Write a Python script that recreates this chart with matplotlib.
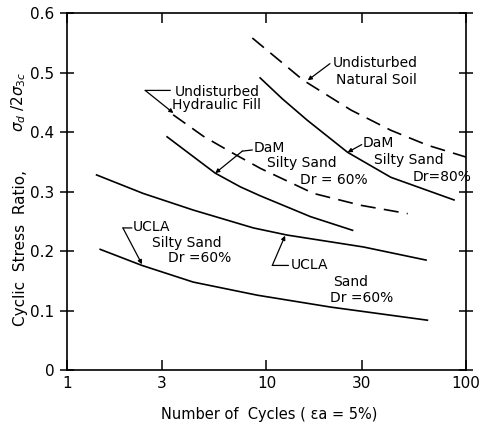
#!/usr/bin/env python3
import matplotlib
matplotlib.use("Agg")
import matplotlib.pyplot as plt
from matplotlib.ticker import FixedLocator, FixedFormatter, NullLocator

# curves: number of cycles vs cyclic stress ratio
natural_n = [8.5, 15.3, 26.5, 42, 64, 100]
natural_v = [0.558, 0.487, 0.437, 0.403, 0.378, 0.358]

dam80_n = [9.3, 12, 16, 25.5, 42, 87]
dam80_v = [0.491, 0.456, 0.42, 0.366, 0.324, 0.286]

hydraulic_n = [3.41, 4.83, 6.75, 9.33, 17.2, 29.7, 51]
hydraulic_v = [0.429, 0.393, 0.365, 0.339, 0.297, 0.277, 0.263]

dam60_n = [3.18, 5.54, 7.4, 9.3, 16.6, 27]
dam60_v = [0.392, 0.331, 0.308, 0.293, 0.258, 0.235]

ucla_sand_n = [1.41, 2.41, 4.3, 8.6, 12.7, 30.6, 63]
ucla_sand_v = [0.328, 0.297, 0.269, 0.239, 0.227, 0.207, 0.185]

ucla_silty_n = [1.47, 2.38, 4.3, 9.0, 21, 64]
ucla_silty_v = [0.203, 0.176, 0.148, 0.126, 0.106, 0.084]

x_ticks = [1, 3, 10, 30, 100]
x_labels = ["1", "3", "10", "30", "100"]
y_ticks = [0, 0.1, 0.2, 0.3, 0.4, 0.5, 0.6]
y_labels = ["0", "0.1", "0.2", "0.3", "0.4", "0.5", "0.6"]

fig = plt.figure(figsize=(4.84, 4.34), dpi=100)
ax = fig.add_axes([0.138, 0.147, 0.825, 0.823])

dash = (0, (9, 5))
ax.plot(natural_n, natural_v, color="k", lw=1.2, ls=dash)
ax.plot(hydraulic_n, hydraulic_v, color="k", lw=1.2, ls=dash)
ax.plot(dam80_n, dam80_v, color="k", lw=1.2)
ax.plot(dam60_n, dam60_v, color="k", lw=1.2)
ax.plot(ucla_sand_n, ucla_sand_v, color="k", lw=1.2)
ax.plot(ucla_silty_n, ucla_silty_v, color="k", lw=1.2)

ax.set_xscale("log")
ax.set_xlim(1, 100)
ax.set_ylim(0, 0.6)
ax.xaxis.set_major_locator(FixedLocator(x_ticks))
ax.xaxis.set_major_formatter(FixedFormatter(x_labels))
ax.xaxis.set_minor_locator(NullLocator())
ax.yaxis.set_major_locator(FixedLocator(y_ticks))
ax.yaxis.set_major_formatter(FixedFormatter(y_labels))
ax.tick_params(axis="both", which="major", labelsize=11, width=1.1,
               top=True, right=True, direction="in", length=7, pad=4)
ax.tick_params(axis="y", which="major", left=True, direction="inout", length=10)
for s in ax.spines.values():
    s.set_linewidth(1.2)

fs = 10
arrow = dict(arrowstyle="-|>", color="k", lw=0.9, mutation_scale=6,
             shrinkA=0, shrinkB=0)
stub = dict(arrowstyle="-", color="k", lw=0.9, shrinkA=0, shrinkB=0)

# Undisturbed Hydraulic Fill
ax.annotate("", xy=(3.3, 0.47), xytext=(2.47, 0.47), arrowprops=stub)
ax.annotate("", xy=(3.42, 0.432), xytext=(2.47, 0.47), arrowprops=arrow)
ax.text(3.49, 0.467, "Undisturbed", fontsize=fs, ha="left", va="center")
ax.text(3.37, 0.446, "Hydraulic Fill", fontsize=fs, ha="left", va="center")

# Undisturbed Natural Soil
ax.annotate("", xy=(16.1, 0.487), xytext=(20.8, 0.515), arrowprops=arrow)
ax.text(21.5, 0.516, "Undisturbed", fontsize=fs, ha="left", va="center")
ax.text(22.2, 0.487, "Natural Soil", fontsize=fs, ha="left", va="center")

# DaM Silty Sand Dr = 60%
ax.annotate("", xy=(8.5, 0.37), xytext=(7.57, 0.368), arrowprops=stub)
ax.annotate("", xy=(5.54, 0.331), xytext=(7.57, 0.368), arrowprops=arrow)
ax.text(8.6, 0.373, "DaM", fontsize=fs, ha="left", va="center")
ax.text(10.1, 0.348, "Silty Sand", fontsize=fs, ha="left", va="center")
ax.text(14.8, 0.319, "Dr = 60%", fontsize=fs, ha="left", va="center")

# DaM Silty Sand Dr = 80%
ax.annotate("", xy=(25.5, 0.366), xytext=(30.0, 0.379), arrowprops=arrow)
ax.text(30.4, 0.382, "DaM", fontsize=fs, ha="left", va="center")
ax.text(34.4, 0.353, "Silty Sand", fontsize=fs, ha="left", va="center")
ax.text(54.2, 0.324, "Dr=80%", fontsize=fs, ha="left", va="center")

# UCLA Silty Sand Dr = 60%
ax.annotate("", xy=(2.12, 0.239), xytext=(1.91, 0.239), arrowprops=stub)
ax.annotate("", xy=(2.38, 0.178), xytext=(1.91, 0.239), arrowprops=arrow)
ax.text(2.14, 0.241, "UCLA", fontsize=fs, ha="left", va="center")
ax.text(2.67, 0.213, "Silty Sand", fontsize=fs, ha="left", va="center")
ax.text(3.22, 0.188, "Dr =60%", fontsize=fs, ha="left", va="center")

# UCLA Sand Dr = 60%
ax.annotate("", xy=(12.9, 0.176), xytext=(10.7, 0.176), arrowprops=stub)
ax.annotate("", xy=(12.4, 0.226), xytext=(10.7, 0.176), arrowprops=arrow)
ax.text(13.2, 0.176, "UCLA", fontsize=fs, ha="left", va="center")
ax.text(21.5, 0.148, "Sand", fontsize=fs, ha="left", va="center")
ax.text(20.9, 0.121, "Dr =60%", fontsize=fs, ha="left", va="center")

# axis labels
fig.text(0.043, 0.25, "Cyclic  Stress  Ratio,", rotation=90, fontsize=11,
         ha="center", va="bottom")
fig.text(0.038, 0.765, r"$\sigma_d\ /2\sigma_{3c}$", rotation=90, fontsize=11,
         ha="center", va="center")
fig.text(0.556, 0.044, "Number of  Cycles ( \u03b5a = 5%)", fontsize=10.5,
         ha="center", va="center")

fig.savefig("out.png", dpi=100)
